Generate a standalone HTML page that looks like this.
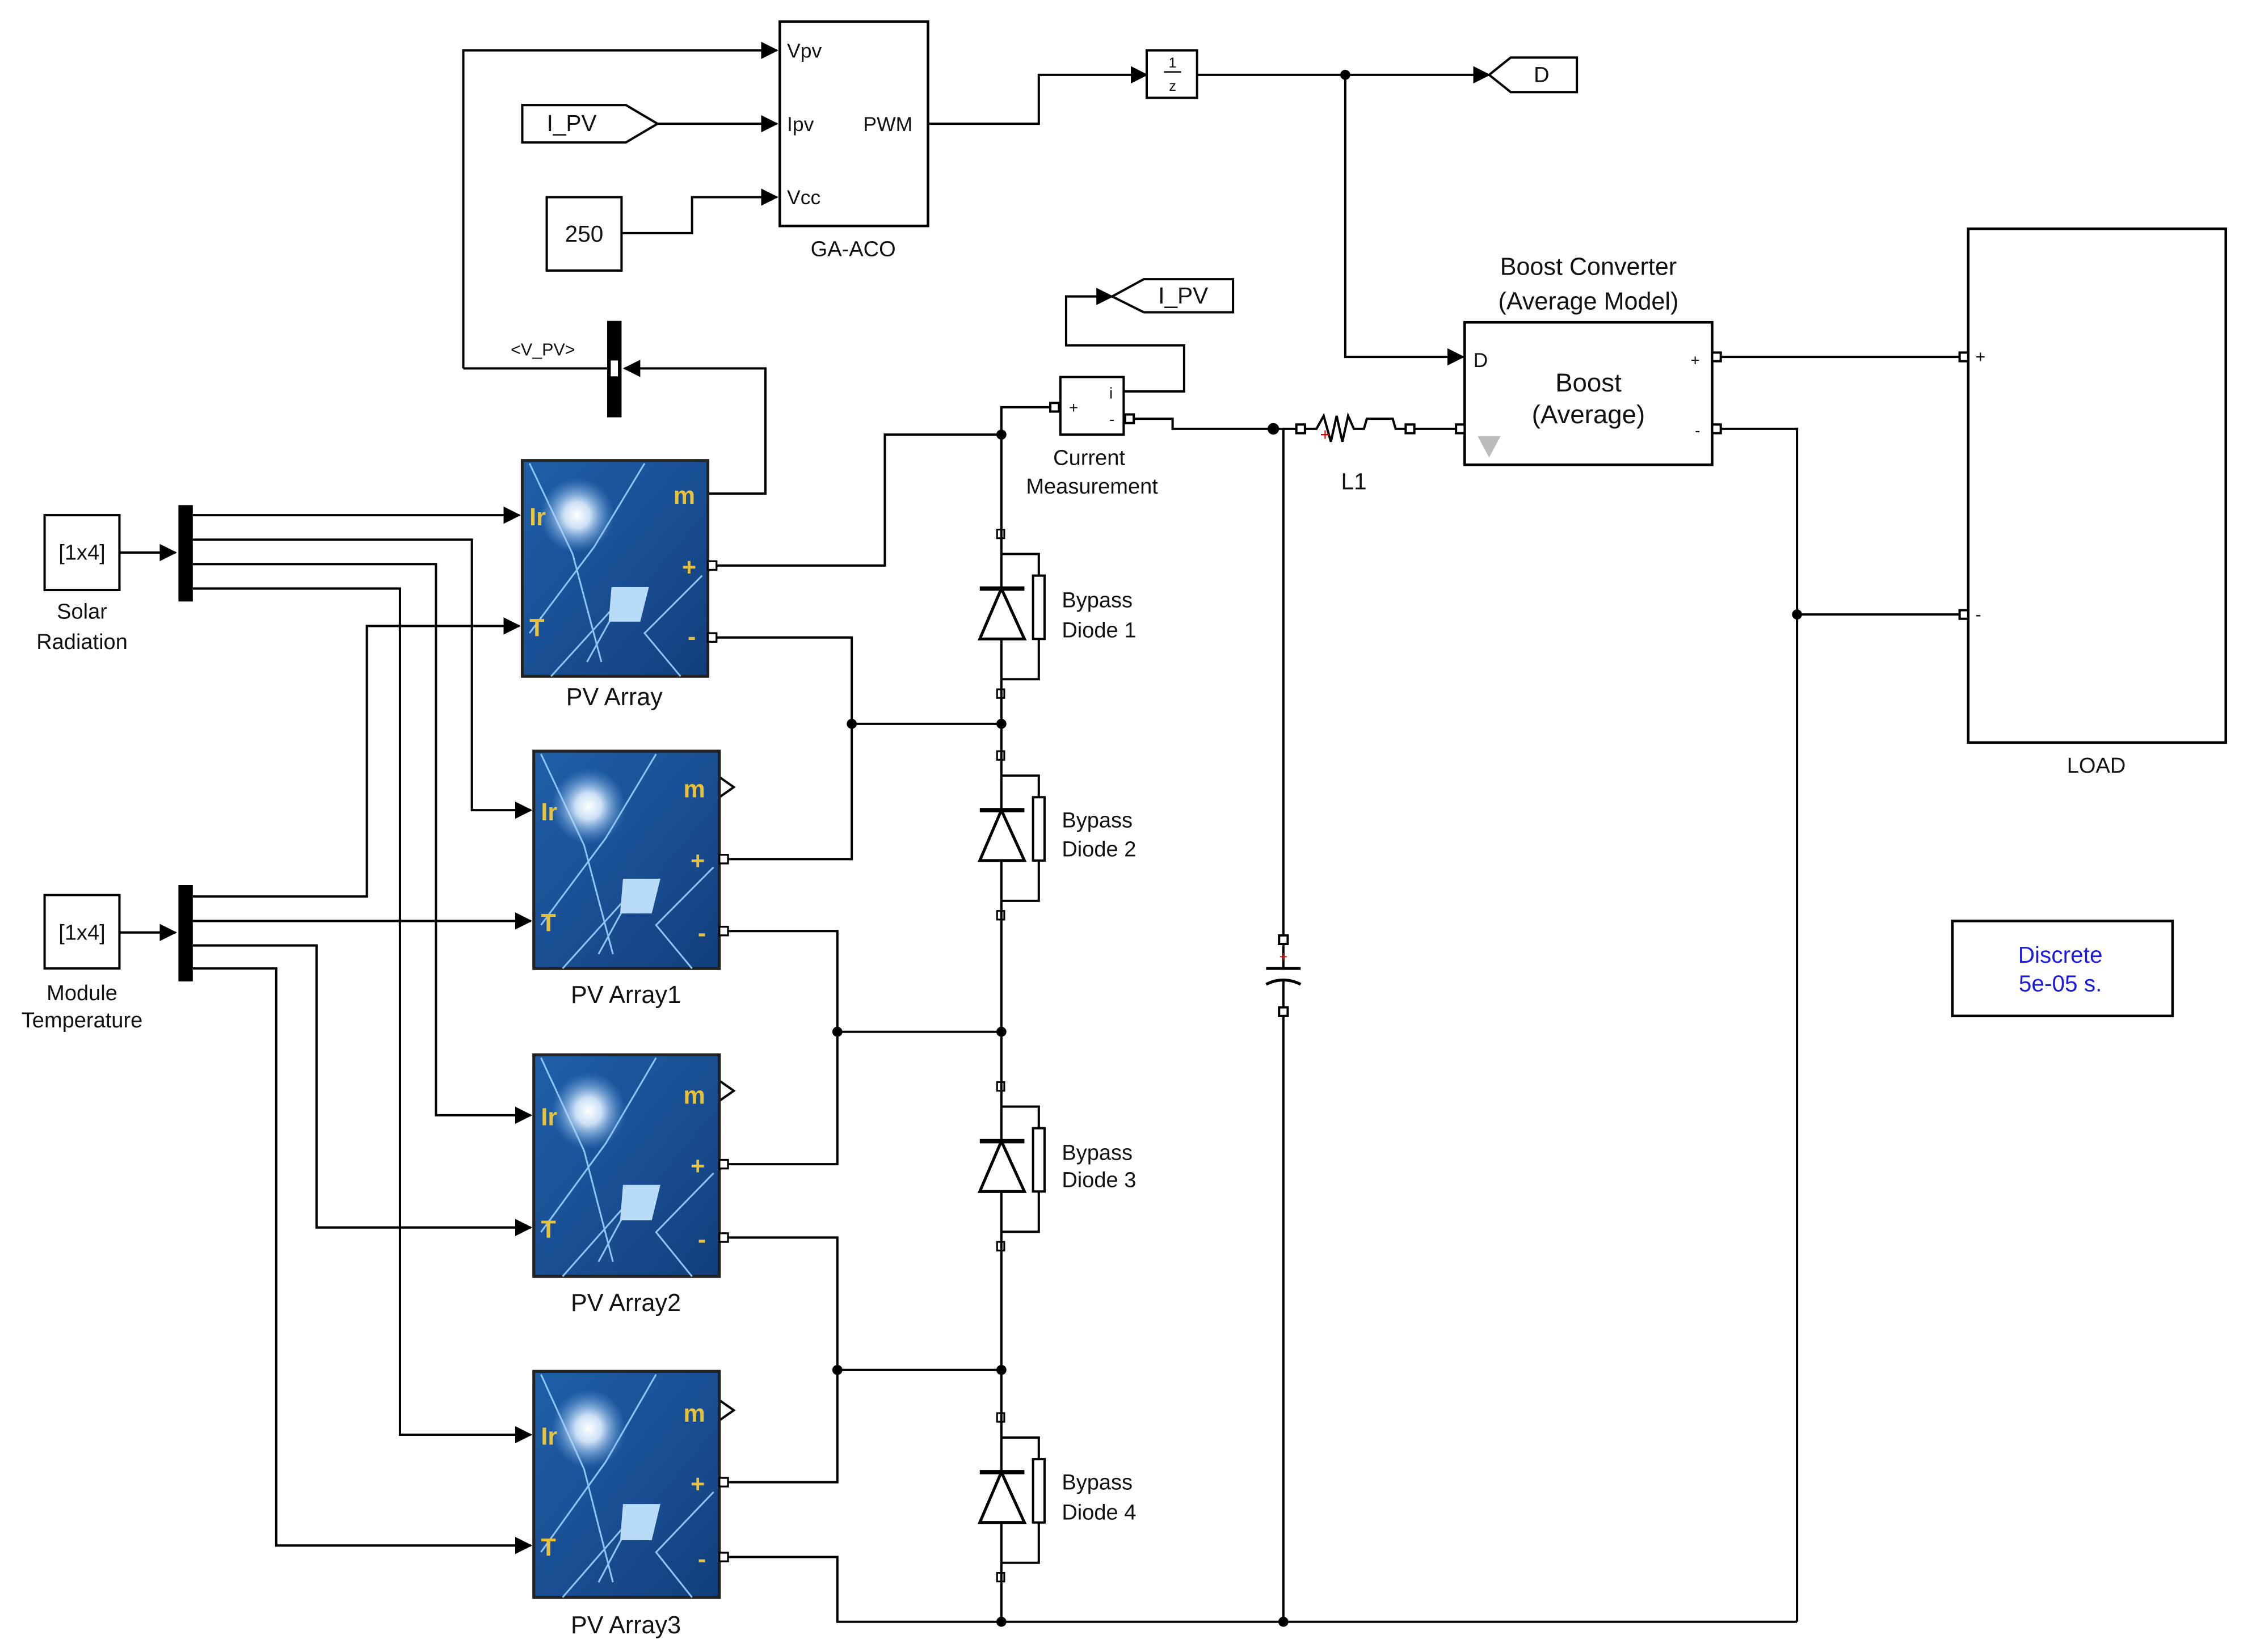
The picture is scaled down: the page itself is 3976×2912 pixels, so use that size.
<!DOCTYPE html>
<html><head><meta charset="utf-8"><style>
html,body{margin:0;padding:0;background:#fff;}
svg{display:block;}
text{font-family:"Liberation Sans",sans-serif;fill:#111;}
</style></head><body>
<svg width="3976" height="2912" viewBox="0 0 1568 1148" preserveAspectRatio="none" xmlns="http://www.w3.org/2000/svg">
<defs>
<marker id="ar" markerUnits="userSpaceOnUse" markerWidth="12" markerHeight="12" refX="11" refY="6" orient="auto"><path d="M0,0 L12,6 L0,12 z" fill="#000"/></marker>
<linearGradient id="pv" x1="0" y1="0" x2="1" y2="1"><stop offset="0" stop-color="#1f5fa8"/><stop offset="0.5" stop-color="#1a4f94"/><stop offset="1" stop-color="#123f7c"/></linearGradient>
<radialGradient id="glow" cx="0.5" cy="0.5" r="0.5"><stop offset="0" stop-color="#fff"/><stop offset="0.35" stop-color="#dfefff" stop-opacity="0.9"/><stop offset="1" stop-color="#6aa8e8" stop-opacity="0"/></radialGradient>
<g id="pvimg">
<rect x="0" y="0" width="129" height="150" fill="url(#pv)" stroke="#222" stroke-width="2"/>
<path d="M5,2 L35,65 L55,140" stroke="#8cc4f5" stroke-width="1.2" fill="none"/>
<path d="M85,2 L50,60 L5,120" stroke="#8cc4f5" stroke-width="1.2" fill="none"/>
<path d="M125,80 L85,120 L110,150" stroke="#8cc4f5" stroke-width="1.2" fill="none"/>
<path d="M45,140 L70,95 L20,150" stroke="#8cc4f5" stroke-width="1.2" fill="none"/>
<polygon points="62,88 88,88 82,112 60,112" fill="#b8dcf7"/>
<circle cx="38" cy="38" r="26" fill="url(#glow)"/>
</g>
</defs>

<g fill="none" stroke="#000" stroke-width="1.6">
<!-- GA-ACO -->
<rect x="542" y="15" width="103" height="142" stroke-width="1.8"/>
<polyline points="322,256 322,35 540,35" marker-end="url(#ar)"/>
<polyline points="457,86 540,86" marker-end="url(#ar)"/>
<polygon points="363,73 435,73 457,86 435,99 363,99" stroke-width="1.6"/>
<rect x="380" y="137" width="52" height="51"/>
<polyline points="432,162 481,162 481,137 540,137" marker-end="url(#ar)"/>
<polyline points="645,86 722,86 722,52 797,52" marker-end="url(#ar)"/>
<rect x="797" y="35" width="35" height="33"/>
<polyline points="832,52 1035,52" marker-end="url(#ar)"/>
<polygon points="1035,52 1050,40 1096,40 1096,64 1050,64"/>
<polyline points="935,52 935,248 1017,248" marker-end="url(#ar)"/>
<!-- bus selector -->
<polyline points="322,256 422,256"/>
<polyline points="492,343 532,343 532,256 434,256" marker-end="url(#ar)"/>
<!-- boost -->
<rect x="1018" y="224" width="172" height="99" stroke-width="1.8"/>
<polyline points="1190,248 1365,248"/>
<polyline points="1190,298 1249,298 1249,1127"/>
<polyline points="1249,427 1365,427"/>
<rect x="1368" y="159" width="179" height="357" stroke-width="1.8"/>
<rect x="1357" y="640" width="153" height="66" stroke-width="1.8"/>
<!-- current meas -->
<rect x="737" y="262" width="44" height="40"/>
<polyline points="781,272 823,272 823,240 741,240 741,206 773,206" marker-end="url(#ar)"/>
<polygon points="773,206 795,194 857,194 857,217 795,217"/>
<polyline points="785,291 815,291 815,298 905,298"/>
<polyline points="980,298 1015,298"/>
<polyline points="892,298 892,652"/>
<polyline points="892,704 892,1127"/>
<!-- main vertical -->
<polyline points="492,393 615,393 615,302 696,302 696,283 733,283"/>
<polyline points="696,302 696,1127 582,1127 582,1082 500,1082"/>
<polyline points="696,1127 1249,1127"/>
<polyline points="492,443 592,443 592,597 500,597"/>
<polyline points="592,503 696,503"/>
<polyline points="500,647 582,647 582,809 500,809"/>
<polyline points="582,717 696,717"/>
<polyline points="500,860 582,860 582,1030 500,1030"/>
<polyline points="582,952 696,952"/>
<!-- inputs solar -->
<rect x="31" y="358" width="52" height="52"/>
<polyline points="83,384 122,384" marker-end="url(#ar)"/>
<polyline points="134,358 361,358" marker-end="url(#ar)"/>
<polyline points="134,375 328,375 328,563 369,563" marker-end="url(#ar)"/>
<polyline points="134,392 303,392 303,775 369,775" marker-end="url(#ar)"/>
<polyline points="134,409 278,409 278,997 369,997" marker-end="url(#ar)"/>
<rect x="31" y="622" width="52" height="51"/>
<polyline points="83,648 122,648" marker-end="url(#ar)"/>
<polyline points="134,623 255,623 255,435 361,435" marker-end="url(#ar)"/>
<polyline points="134,640 369,640" marker-end="url(#ar)"/>
<polyline points="134,657 220,657 220,853 369,853" marker-end="url(#ar)"/>
<polyline points="134,673 192,673 192,1074 369,1074" marker-end="url(#ar)"/>
<!-- m outputs of arrays 1-3 -->
<polyline points="500,540 510,547 500,554"/>
<polyline points="500,751 510,758 500,765"/>
<polyline points="500,973 510,980 500,987"/>
</g>
<!-- bars -->
<rect x="124" y="351" width="10" height="67" fill="#000"/>
<rect x="124" y="615" width="10" height="67" fill="#000"/>
<rect x="422" y="223" width="10" height="67" fill="#000"/>
<rect x="424" y="250" width="6" height="12" fill="#fff" stroke="#000"/>

<!-- diodes -->
<g stroke="#000" stroke-width="1.6" fill="none">
<g id="d1">
<rect x="693" y="368" width="5" height="6" stroke-width="1.2"/>
<polyline points="696,385 722,385 722,400"/>
<line x1="681" y1="409" x2="712" y2="409" stroke-width="3"/>
<polygon points="696,409 681,444 712,444" fill="#fff" stroke-width="2"/>
<rect x="718" y="400" width="8" height="44" fill="#fff"/>
<polyline points="722,444 722,472 696,472"/>
<rect x="693" y="479" width="5" height="6" stroke-width="1.2"/>
</g>
<use href="#d1" y="154"/>
<use href="#d1" y="384"/>
<use href="#d1" y="614"/>
<!-- current meas ports -->
<rect x="730" y="280" width="6" height="6" fill="#fff"/>
<rect x="782" y="288" width="6" height="6" fill="#fff"/>
<!-- inductor -->
<rect x="901" y="295" width="6" height="6" fill="#fff"/>
<polyline points="907,298 915,298 920,289 925,307 929,289 933,307 937,289 941,298 948,298 950,291 968,291 970,298 977,298"/>
<rect x="977" y="295" width="6" height="6" fill="#fff"/>
<rect x="1012" y="295" width="6" height="6" fill="#fff"/>
<rect x="1190" y="245" width="6" height="6" fill="#fff"/>
<rect x="1190" y="295" width="6" height="6" fill="#fff"/>
<rect x="1362" y="245" width="6" height="6" fill="#fff"/>
<rect x="1362" y="424" width="6" height="6" fill="#fff"/>
<!-- capacitor -->
<rect x="889" y="650" width="6" height="6" fill="#fff"/>
<line x1="880" y1="673" x2="904" y2="673" stroke-width="2"/>
<path d="M880,684 Q892,678 904,684" stroke-width="2"/>
<line x1="892" y1="656" x2="892" y2="673"/>
<line x1="892" y1="681" x2="892" y2="700"/>
<rect x="889" y="700" width="6" height="6" fill="#fff"/>
</g>
<text x="892" y="668" font-size="10" fill="#d00" style="fill:#d00" text-anchor="middle">+</text>
<text x="921" y="306" font-size="12" style="fill:#d00" text-anchor="middle">+</text>
<polygon points="1027,303 1043,303 1035,318" fill="#bbb"/>
<!-- junction dots -->
<g fill="#000">
<circle cx="935" cy="52" r="3.5"/><circle cx="885" cy="298" r="4"/>
<circle cx="1249" cy="427" r="3.5"/><circle cx="592" cy="503" r="3.5"/>
<circle cx="696" cy="503" r="3.5"/><circle cx="582" cy="717" r="3.5"/>
<circle cx="696" cy="717" r="3.5"/><circle cx="582" cy="952" r="3.5"/>
<circle cx="696" cy="952" r="3.5"/><circle cx="696" cy="1127" r="3.5"/>
<circle cx="892" cy="1127" r="3.5"/><circle cx="696" cy="302" r="3.5"/>
</g>
<!-- PV arrays -->
<g transform="translate(363,320)"><use href="#pvimg"/></g>
<g transform="translate(371,522)"><use href="#pvimg" transform="scale(1,1.007)"/></g>
<g transform="translate(371,733)"><use href="#pvimg" transform="scale(1,1.027)"/></g>
<g transform="translate(371,953)"><use href="#pvimg" transform="scale(1,1.047)"/></g>
<g fill="#fff" stroke="#000" stroke-width="1.3">
<rect x="492" y="390" width="6" height="6"/><rect x="492" y="440" width="6" height="6"/>
<rect x="500" y="594" width="6" height="6"/><rect x="500" y="644" width="6" height="6"/>
<rect x="500" y="806" width="6" height="6"/><rect x="500" y="857" width="6" height="6"/>
<rect x="500" y="1027" width="6" height="6"/><rect x="500" y="1079" width="6" height="6"/>
</g>
<g font-size="17" font-weight="bold" style="fill:#e8c23a">
<text x="368" y="365" style="fill:#e8c23a">Ir</text><text x="368" y="442" style="fill:#e8c23a">T</text><text x="468" y="350" style="fill:#e8c23a">m</text><text x="474" y="400" style="fill:#e8c23a">+</text><text x="478" y="448" style="fill:#e8c23a">-</text>
<text x="376" y="570" style="fill:#e8c23a">Ir</text><text x="376" y="647" style="fill:#e8c23a">T</text><text x="475" y="554" style="fill:#e8c23a">m</text><text x="480" y="604" style="fill:#e8c23a">+</text><text x="485" y="654" style="fill:#e8c23a">-</text>
<text x="376" y="782" style="fill:#e8c23a">Ir</text><text x="376" y="860" style="fill:#e8c23a">T</text><text x="475" y="767" style="fill:#e8c23a">m</text><text x="480" y="816" style="fill:#e8c23a">+</text><text x="485" y="867" style="fill:#e8c23a">-</text>
<text x="376" y="1004" style="fill:#e8c23a">Ir</text><text x="376" y="1081" style="fill:#e8c23a">T</text><text x="475" y="988" style="fill:#e8c23a">m</text><text x="480" y="1037" style="fill:#e8c23a">+</text><text x="485" y="1089" style="fill:#e8c23a">-</text>
</g>
<!-- labels -->
<g font-size="14">
<text x="547" y="40">Vpv</text><text x="547" y="91">Ipv</text><text x="547" y="142">Vcc</text><text x="600" y="91">PWM</text>
<text x="593" y="178" text-anchor="middle" font-size="15">GA-ACO</text>
<text x="380" y="91" font-size="16">I_PV</text>
<text x="406" y="168" font-size="16" text-anchor="middle">250</text>
<text x="815" y="47" font-size="10" text-anchor="middle">1</text>
<line x1="809" y1="50" x2="821" y2="50" stroke="#000"/>
<text x="815" y="63" font-size="10" text-anchor="middle">z</text>
<text x="1066" y="57" font-size="15">D</text>
<text x="355" y="247" font-size="12">&lt;V_PV&gt;</text>
<text x="805" y="211" font-size="16">I_PV</text>
<text x="743" y="287" font-size="11">+</text><text x="771" y="277" font-size="11">i</text><text x="771" y="295" font-size="11">-</text>
<text x="757" y="323" font-size="15" text-anchor="middle">Current</text>
<text x="759" y="343" font-size="15" text-anchor="middle">Measurement</text>
<text x="941" y="340" font-size="16" text-anchor="middle">L1</text>
<text x="1104" y="191" font-size="17" text-anchor="middle">Boost Converter</text>
<text x="1104" y="215" font-size="17" text-anchor="middle">(Average Model)</text>
<text x="1104" y="272" font-size="18" text-anchor="middle">Boost</text>
<text x="1104" y="294" font-size="18" text-anchor="middle">(Average)</text>
<text x="1024" y="255" font-size="14">D</text>
<text x="1175" y="254" font-size="11">+</text><text x="1178" y="303" font-size="11">-</text>
<text x="1373" y="252" font-size="12">+</text><text x="1373" y="431" font-size="12">-</text>
<text x="1457" y="537" font-size="15" text-anchor="middle">LOAD</text>
<text x="1432" y="669" font-size="16" text-anchor="middle" style="fill:#1a1ae0">Discrete</text>
<text x="1432" y="689" font-size="16" text-anchor="middle" style="fill:#1a1ae0">5e-05 s.</text>
<text x="57" y="389" font-size="15" text-anchor="middle">[1x4]</text>
<text x="57" y="430" font-size="15" text-anchor="middle">Solar</text>
<text x="57" y="451" font-size="15" text-anchor="middle">Radiation</text>
<text x="57" y="653" font-size="15" text-anchor="middle">[1x4]</text>
<text x="57" y="695" font-size="15" text-anchor="middle">Module</text>
<text x="57" y="714" font-size="15" text-anchor="middle">Temperature</text>
<text x="427" y="490" font-size="17" text-anchor="middle">PV Array</text>
<text x="435" y="697" font-size="17" text-anchor="middle">PV Array1</text>
<text x="435" y="911" font-size="17" text-anchor="middle">PV Array2</text>
<text x="435" y="1135" font-size="17" text-anchor="middle">PV Array3</text>
<text x="738" y="422" font-size="15">Bypass</text><text x="738" y="443" font-size="15">Diode 1</text>
<text x="738" y="575" font-size="15">Bypass</text><text x="738" y="595" font-size="15">Diode 2</text>
<text x="738" y="806" font-size="15">Bypass</text><text x="738" y="825" font-size="15">Diode 3</text>
<text x="738" y="1035" font-size="15">Bypass</text><text x="738" y="1056" font-size="15">Diode 4</text>
</g>
</svg>
</body></html>
